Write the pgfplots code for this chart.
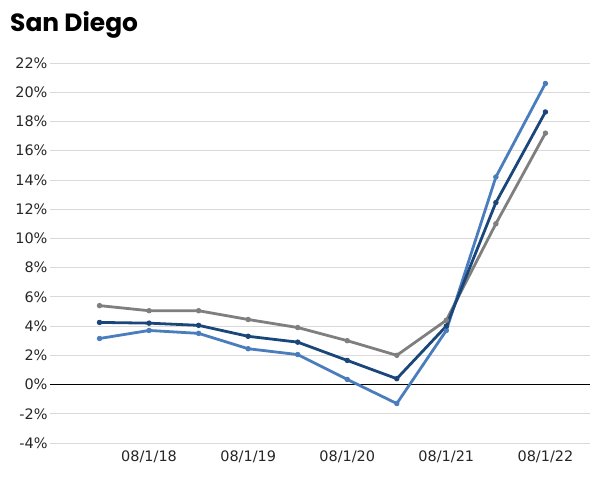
\documentclass[border=0pt]{standalone}
\usepackage{fontspec}
\setmainfont{Poppins}
\newfontfamily\tickfont{DejaVu Sans}
\usepackage{pgfplots}
\pgfplotsset{compat=1.18}
\definecolor{cgray}{HTML}{7F7F7F}
\definecolor{cnavy}{HTML}{1B4679}
\definecolor{cblue}{HTML}{4A7DBD}
\definecolor{cgrid}{HTML}{D9D9D9}
\begin{document}
\begin{tikzpicture}
\useasboundingbox (-50bp,-37bp) rectangle (556bp,443bp);
\begin{axis}[
  at={(0,0)}, anchor=south west,
  scale only axis,
  width=540bp, height=380bp,
  xmin=-1, xmax=9.9,
  ymin=-4, ymax=22,
  axis line style={draw=none},
  tick style={draw=none},
  ytick={-4,-2,...,22},
  xtick={1,3,5,7,9},
  xticklabels={08/1/18,08/1/19,08/1/20,08/1/21,08/1/22},
  ymajorgrids,
  grid style={cgrid, line width=0.8bp},
  yticklabel={\pgfmathprintnumber{\tick}\%},
  /pgf/number format/assume math mode=true,
  ticklabel style={font=\tickfont\fontsize{14.5}{16}\selectfont, text=black!85},
  yticklabel style={xshift=1bp},
  xticklabel style={yshift=-4bp},
  clip=false,
  every axis plot/.append style={line width=2.8bp, mark=*, mark size=2.2bp, line join=round},
]
\draw[black, line width=0.9bp] (axis cs:-1,0) -- (axis cs:9.9,0);
\addplot[cgray, mark options={fill=cgray, line width=1bp}] coordinates {
(0,5.4) (1,5.05) (2,5.05) (3,4.45) (4,3.9) (5,3.0) (6,2.0) (7,4.4) (8,11.0) (9,17.2)};
\addplot[cblue, mark options={fill=cblue, line width=1bp}] coordinates {
(0,3.15) (1,3.7) (2,3.5) (3,2.45) (4,2.05) (5,0.35) (6,-1.3) (7,3.7) (8,14.2) (9,20.6)};
\addplot[cnavy, mark options={fill=cnavy, line width=1bp}] coordinates {
(0,4.25) (1,4.2) (2,4.05) (3,3.3) (4,2.9) (5,1.65) (6,0.4) (7,4.0) (8,12.45) (9,18.65)};
\end{axis}
\node[anchor=base west, inner sep=0pt, font=\fontsize{25}{28}\selectfont\bfseries] at (-40bp,411bp) {San Diego};
\end{tikzpicture}
\end{document}
